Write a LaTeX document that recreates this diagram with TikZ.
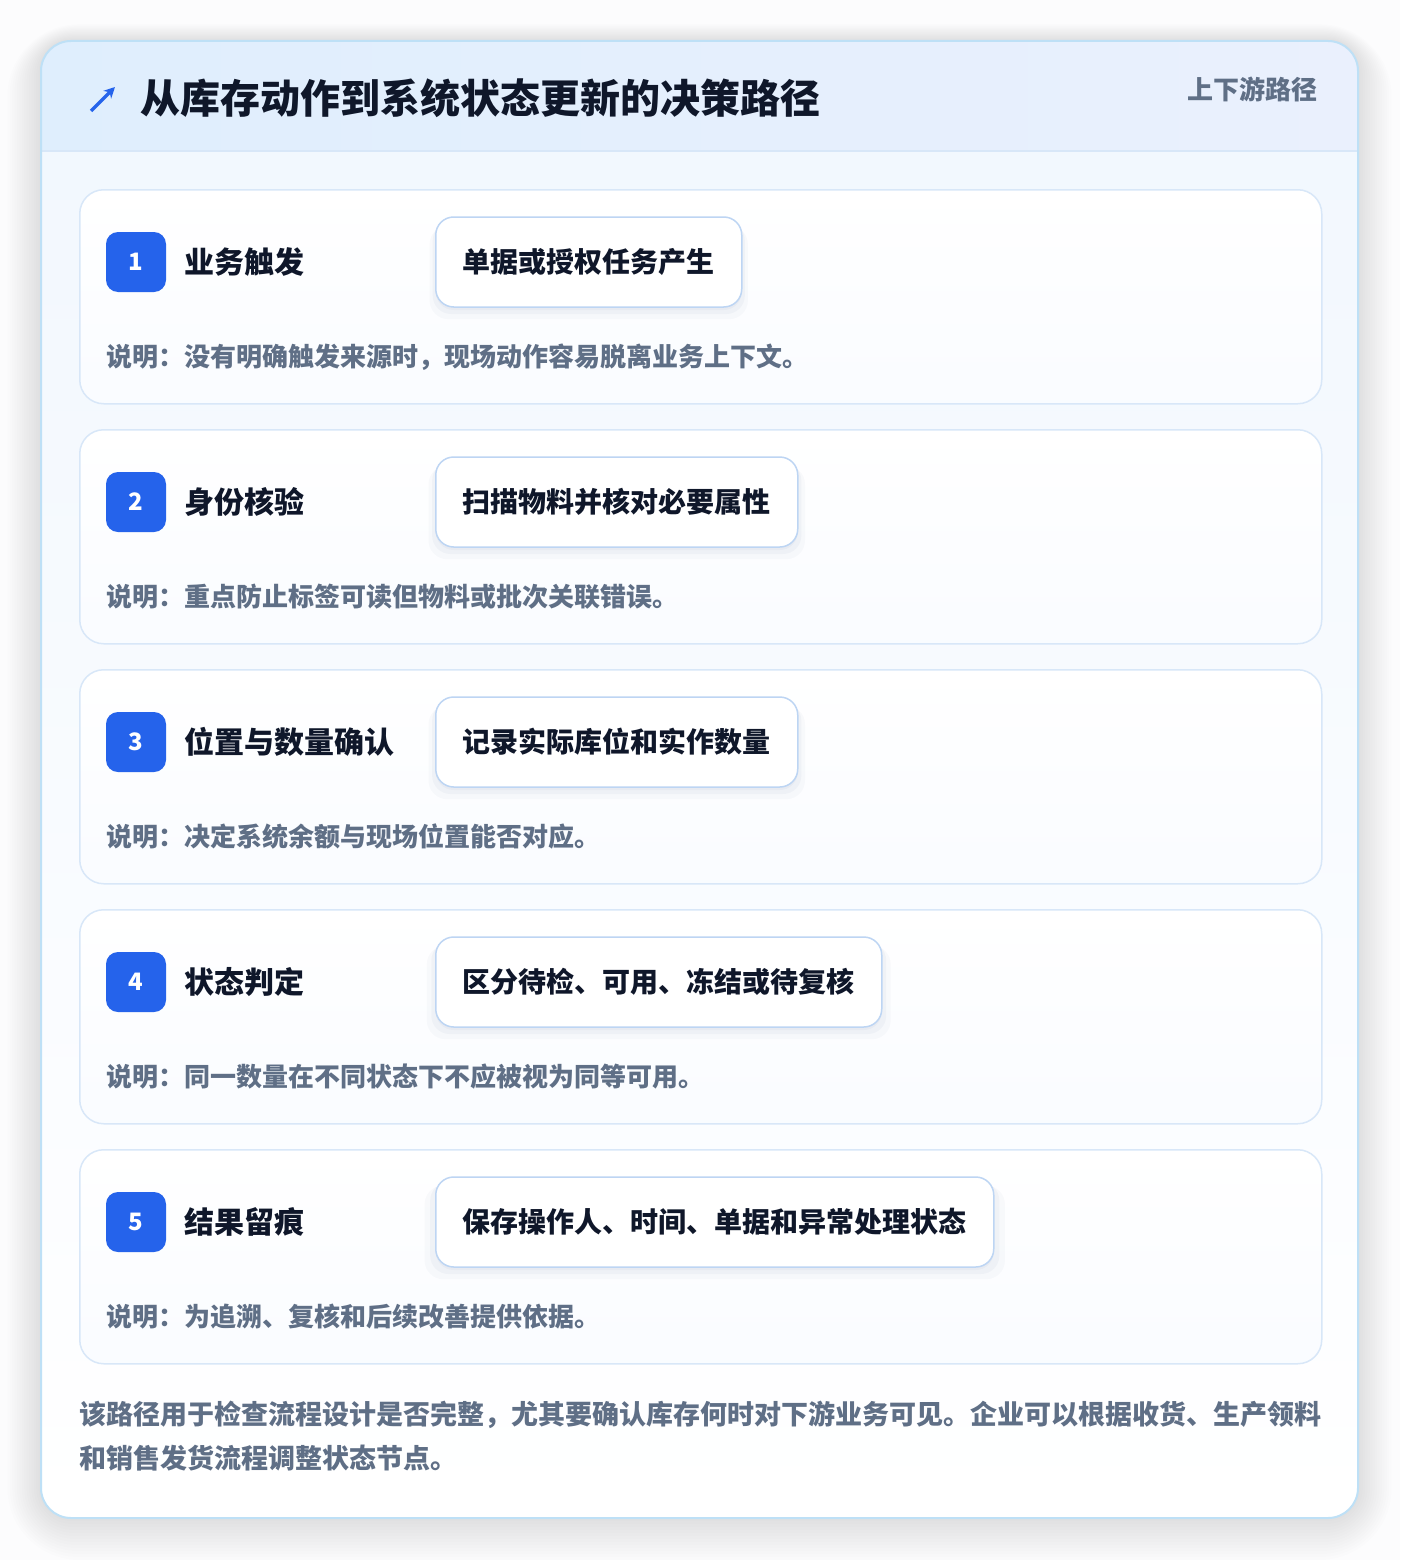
\documentclass[tikz,border=0pt]{standalone}
\usepackage{fontspec}
\setmainfont{Noto Sans CJK SC}
\usetikzlibrary{positioning,arrows.meta,shadows}

\definecolor{pageback}{HTML}{F7F8FA}
\definecolor{outerline}{HTML}{BEE0F6}
\definecolor{headleft}{HTML}{DFEEFD}
\definecolor{headright}{HTML}{EAF0FD}
\definecolor{bodytop}{HTML}{F1F7FE}
\definecolor{cardline}{HTML}{D8E7F8}
\definecolor{pillline}{HTML}{BDD5F3}
\definecolor{badgeblue}{HTML}{2563EB}
\definecolor{inkdark}{HTML}{0F172A}
\definecolor{muted}{HTML}{5F6F86}

\newcommand{\fs}[1]{\fontsize{#1}{#1}\selectfont\bfseries}

\begin{document}
\begin{tikzpicture}[x=1pt,y=-1pt,
	card/.style={draw=cardline, line width=1.5pt, rounded corners=24pt, top color=white, bottom color=white!60!bodytop,
		minimum width=1242pt, minimum height=214pt, anchor=north west, inner sep=0pt},
	badge/.style={fill=badgeblue, rounded corners=12pt, minimum size=60pt, inner sep=0pt, text=white, font=\fs{24}},
	steptitle/.style={anchor=west, inner sep=0pt, text=inkdark, font=\fs{30}},
	pill/.style={draw=pillline, line width=1.5pt, fill=white, rounded corners=18pt, minimum height=90pt, inner xsep=27pt,
		anchor=west, text=inkdark, font=\fs{28},
		general shadow={shadow xshift=0pt, shadow yshift=-10pt, shadow scale=1.04, opacity=.025, fill=badgeblue!50!black},
		general shadow={shadow xshift=0pt, shadow yshift=-6pt, shadow scale=1.02, opacity=.03, fill=badgeblue!50!black},
		general shadow={shadow xshift=0pt, shadow yshift=-3pt, opacity=.03, fill=badgeblue!50!black}},
	note/.style={anchor=west, inner sep=0pt, text=muted, font=\fs{26}}
	]
	\useasboundingbox (0,0) rectangle (1400,1560);
	\fill[pageback!40!white] (0,0) rectangle (1400,1560);

	% soft shadow round the panel
	\foreach \d in {3,6,...,42}
		\fill[black, opacity=.007, rounded corners=30pt+\d pt] (41-\d*0.8,41-\d*0.4) rectangle (1358+\d*0.8,1518+\d*1.0);

	% panel
	\fill[top color=bodytop, bottom color=white, rounded corners=30pt] (41,41) rectangle (1358,1518);
	\begin{scope}
		\clip[rounded corners=30pt] (41,41) rectangle (1358,1518);
		\fill[left color=headleft, right color=headright] (41,41) rectangle (1358,151);
	\end{scope}
	\draw[cardline, line width=1.5pt] (41,151) -- (1358,151);
	\draw[outerline, line width=2pt, rounded corners=30pt] (41,41) rectangle (1358,1518);

	% header
	\draw[badgeblue, line width=3.5pt, -{Stealth[length=11pt,width=11pt]}] (91,111) -- (115,87);
	\node[anchor=west, inner sep=0pt, text=inkdark, font=\fs{40}] (title) at (140,98) {从库存动作到系统状态更新的决策路径};
	\node[anchor=east, inner sep=0pt, text=muted, font=\fs{26}] (tag) at (1318,89) {上下游路径};

	% step 1
	\node[card] (c1) at (79,189) {};
	\node[badge] (b1) at (136,262) {1};
	\node[steptitle, right=18pt of b1] (t1) {业务触发};
	\node[pill] (p1) at (435,262) {单据或授权任务产生};
	\node[note] (n1) at (106,357) {说明：没有明确触发来源时，现场动作容易脱离业务上下文。};

	% step 2
	\node[card] (c2) at (79,429) {};
	\node[badge] (b2) at (136,502) {2};
	\node[steptitle, right=18pt of b2] (t2) {身份核验};
	\node[pill] (p2) at (435,502) {扫描物料并核对必要属性};
	\node[note] (n2) at (106,597) {说明：重点防止标签可读但物料或批次关联错误。};

	% step 3
	\node[card] (c3) at (79,669) {};
	\node[badge] (b3) at (136,742) {3};
	\node[steptitle, right=18pt of b3] (t3) {位置与数量确认};
	\node[pill] (p3) at (435,742) {记录实际库位和实作数量};
	\node[note] (n3) at (106,837) {说明：决定系统余额与现场位置能否对应。};

	% step 4
	\node[card] (c4) at (79,909) {};
	\node[badge] (b4) at (136,982) {4};
	\node[steptitle, right=18pt of b4] (t4) {状态判定};
	\node[pill] (p4) at (435,982) {区分待检、可用、冻结或待复核};
	\node[note] (n4) at (106,1077) {说明：同一数量在不同状态下不应被视为同等可用。};

	% step 5
	\node[card] (c5) at (79,1149) {};
	\node[badge] (b5) at (136,1222) {5};
	\node[steptitle, right=18pt of b5] (t5) {结果留痕};
	\node[pill] (p5) at (435,1222) {保存操作人、时间、单据和异常处理状态};
	\node[note] (n5) at (106,1317) {说明：为追溯、复核和后续改善提供依据。};

	% closing remark
	\node[anchor=north west, inner sep=0pt, text=muted, font=\fs{27}, align=left] (foot) at (79,1401)
		{该路径用于检查流程设计是否完整，尤其要确认库存何时对下游业务可见。企业可以根据收货、生产领料\\[15pt]和销售发货流程调整状态节点。};
\end{tikzpicture}
\end{document}
